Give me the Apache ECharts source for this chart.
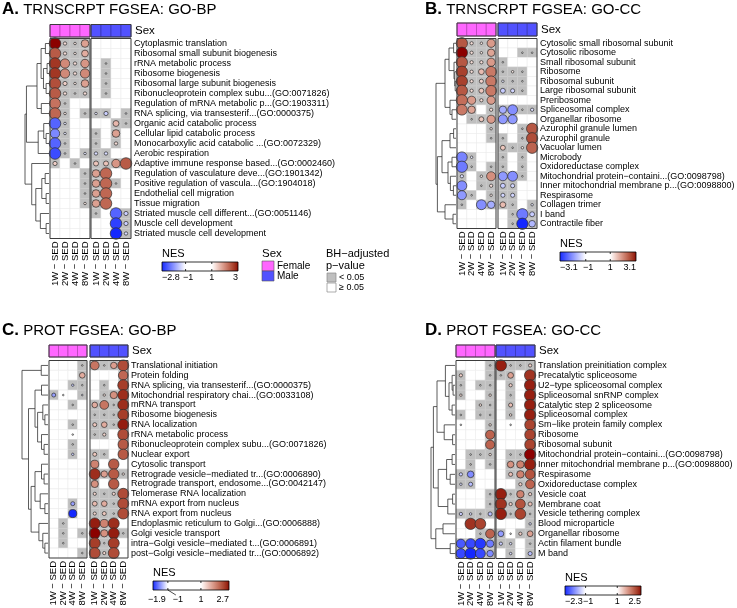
<!DOCTYPE html>
<html>
<head>
<meta charset="utf-8">
<script src="https://cdn.jsdelivr.net/npm/echarts@6/dist/echarts.min.js"></script>
<style>
  html, body { margin: 0; padding: 0; background: #fff; }
  #main { width: 737px; height: 608px; }
</style>
</head>
<body>
<div id="main"></div>
<script>
const FONT = '"Liberation Sans", Arial, Helvetica, sans-serif';
const _ = null;
const colLabels = ['1W − SED', '2W − SED', '4W − SED', '8W − SED'];
const sexLevels = ['Female', 'Male'];

// columns: F1W F2W F4W F8W | M1W M2W M4W M8W
const rowsA = [
    'Cytoplasmic translation', 'Ribosomal small subunit biogenesis', 'rRNA metabolic process',
    'Ribosome biogenesis', 'Ribosomal large subunit biogenesis', 'Ribonucleoprotein complex subu...(GO:0071826)',
    'Regulation of mRNA metabolic p...(GO:1903311)', 'RNA splicing, via transesterif...(GO:0000375)',
    'Organic acid catabolic process', 'Cellular lipid catabolic process', 'Monocarboxylic acid catabolic ...(GO:0072329)',
    'Aerobic respiration', 'Adaptive immune response based...(GO:0002460)', 'Regulation of vasculature deve...(GO:1901342)',
    'Positive regulation of vascula...(GO:1904018)', 'Endothelial cell migration', 'Tissue migration',
    'Striated muscle cell different...(GO:0051146)', 'Muscle cell development', 'Striated muscle cell development'
];
const nesA = [
    [3.0, 1.3, 1.2, 1.8, _, _, _, _],
    [2.4, 1.3, 1.2, 1.7, _, _, _, _],
    [2.7, 2.0, 1.3, 1.9, _, 1.0, _, _],
    [2.7, 2.0, 1.3, 2.0, _, 1.0, _, _],
    [2.5, 1.4, 1.2, 1.8, _, 1.0, _, _],
    [2.4, 1.3, 1.1, 1.3, _, 1.0, _, _],
    [2.2, 1.1, _, _, _, _, _, _],
    [2.3, 1.2, _, 1.1, -1.2, -1.4, _, -1.1],
    [-2.3, -1.2, _, _, _, _, 1.6, 1.0],
    [-2.0, -1.2, _, _, 1.05, _, 1.8, _],
    [-2.3, -1.1, _, _, 1.05, _, 1.3, _],
    [-2.5, -1.1, _, -1.2, -1.3, -1.3, _, _],
    [1.4, _, 1.0, _, 1.5, 1.5, 1.9, 2.4],
    [_, _, _, 1.05, 1.8, 2.3, _, _],
    [_, _, _, 1.05, 1.8, 2.3, 1.0, _],
    [_, _, _, 1.05, 1.8, 2.3, _, _],
    [_, _, _, 1.2, 1.8, 2.3, _, _],
    [_, _, _, _, 1.0, _, -2.3, -1.4],
    [_, _, _, _, _, _, -2.6, -1.4],
    [_, _, _, _, _, _, -2.8, -1.3]
];
const treeA = [10,
    [9.4,
        [5, [3.3, [1.5, 0, 1], [2.3, [0.8, 2, 3], [1.2, 4, 5]]], [3.2, 6, 7]],
        [4.5, [2.2, 8, [1.2, 9, 10]], 11]],
    [7.2, 12, [5.5, [3.0, [1.6, 13, 14], [1.2, 15, 16]], [3.6, 17, [1.2, 18, 19]]]]
];
const nsA = [];
const ticksA = [-2.8, -1, 1, 3];

const rowsB = [
    'Cytosolic small ribosomal subunit', 'Cytosolic ribosome', 'Small ribosomal subunit', 'Ribosome',
    'Ribosomal subunit', 'Large ribosomal subunit', 'Preribosome', 'Spliceosomal complex', 'Organellar ribosome',
    'Azurophil granule lumen', 'Azurophil granule', 'Vacuolar lumen', 'Microbody', 'Oxidoreductase complex',
    'Mitochondrial protein−containi...(GO:0098798)', 'Inner mitochondrial membrane p...(GO:0098800)',
    'Respirasome', 'Collagen trimer', 'I band', 'Contractile fiber'
];
const nesB = [
    [2.5, 1.3, 1.2, 1.9, _, _, _, _],
    [3.1, 1.3, 1.2, 1.8, _, _, -1.0, -1.0],
    [2.5, 1.3, 1.3, 1.9, 1.0, _, _, _],
    [2.7, 1.3, 1.6, 2.2, 1.0, 1.2, 1.0, _],
    [2.7, 1.3, 1.4, 2.2, -1.2, -1.1, 1.0, _],
    [2.5, 1.3, 1.5, 2.2, -1.5, -1.4, 1.0, _],
    [2.3, 1.9, 1.3, 1.9, _, _, _, _],
    [2.2, 1.8, _, 1.3, -1.8, -2.1, 1.0, -1.3],
    [_, 1.0, 1.5, 1.9, -2.0, -2.0, _, _],
    [_, _, _, 1.2, _, _, 1.1, 2.5],
    [_, _, _, 1.0, 1.0, _, 1.1, 2.6],
    [_, _, _, _, 1.5, 1.0, 1.2, 2.4],
    [-2.2, -1.2, _, _, -1.0, _, 1.0, _],
    [-2.3, -1.0, _, -1.0, -1.0, _, 1.0, _],
    [-1.3, _, 1.2, 2.0, -2.0, -2.1, -1.0, _],
    [-2.1, _, 1.0, 1.3, -1.5, -1.4, _, _],
    [-2.0, -1.0, _, 1.2, -1.4, -1.4, _, _],
    [-1.1, _, -2.1, -1.8, 1.6, 1.0, _, -1.2],
    [_, _, _, _, _, -1.0, -2.3, -1.5],
    [_, _, _, _, _, -1.0, -3.1, -1.7]
];
const treeB = [10,
    [5.5, [3.5, [1.2, 0, 1], [1.0, 2, [0.6, 3, [0.4, 4, 5]]]], [3.0, 6, [2.0, 7, 8]]],
    [9.3,
        [7.0, [3.0, [1.2, 9, 10], 11], [4.0, [2.0, 12, 13], [2.8, 14, [1.3, 15, 16]]]],
        [5.5, 17, [1.5, 18, 19]]]
];
const nsB = [];
const ticksB = [-3.1, -1, 1, 3.1];

const rowsC = [
    'Translational initiation', 'Protein folding', 'RNA splicing, via transesterif...(GO:0000375)',
    'Mitochondrial respiratory chai...(GO:0033108)', 'mRNA transport', 'Ribosome biogenesis', 'RNA localization',
    'rRNA metabolic process', 'Ribonucleoprotein complex subu...(GO:0071826)', 'Nuclear export', 'Cytosolic transport',
    'Retrograde vesicle−mediated tr...(GO:0006890)', 'Retrograde transport, endosome...(GO:0042147)',
    'Telomerase RNA localization', 'mRNA export from nucleus', 'RNA export from nucleus',
    'Endoplasmic reticulum to Golgi...(GO:0006888)', 'Golgi vesicle transport',
    'intra−Golgi vesicle−mediated t...(GO:0006891)', 'post−Golgi vesicle−mediated tr...(GO:0006892)'
];
const nesC = [
    [_, _, _, 1.1, 2.0, 1.1, 1.7, 2.3],
    [_, _, _, 1.6, _, _, _, 2.1],
    [_, _, -1.2, 1.0, _, 1.0, _, 2.4],
    [-1.4, -1.0, _, -1.1, _, 1.2, 1.8, 2.5],
    [_, _, -1.0, _, 1.6, 2.0, 1.0, 2.5],
    [_, _, _, _, 1.05, 1.1, 1.0, 2.4],
    [_, _, -1.0, _, 1.4, 1.6, 1.0, 2.6],
    [_, _, 1.0, _, 1.1, 1.3, _, 2.3],
    [_, _, -1.0, _, _, _, _, 2.2],
    [_, _, -1.2, _, 1.4, 1.1, _, 2.2],
    [_, _, _, _, 1.9, _, 2.2, _],
    [_, _, _, _, 2.5, 1.7, 2.2, 1.2],
    [_, _, _, _, 1.8, _, 2.2, _],
    [_, _, _, _, 1.3, 1.0, 1.3, 2.3],
    [_, _, -1.4, _, 1.5, 1.6, 1.0, 2.3],
    [_, _, -1.9, _, 1.3, 1.4, 1.0, 2.3],
    [_, -1.0, _, _, 2.6, 1.9, 2.5, _],
    [_, -1.0, _, -1.0, 2.7, 1.8, 2.6, 1.0],
    [_, -1.0, _, _, 2.4, 1.0, 2.4, _],
    [_, _, _, -1.0, 2.3, 1.3, 2.3, _]
];
const treeC = [10, [2.6, 0, 1],
    [7.5,
        [5, [2.5, 2, 3], [4, [2, 4, [1.2, 5, 6]], [2.5, 7, [1.5, 8, 9]]]],
        [6.5, [5, [2.5, 10, [1.5, 11, 12]], [3, 13, [1.2, 14, 15]]], [3.5, 16, [2, 17, [1.2, 18, 19]]]]]
];
const nsC = [[3, 1], [7, 2]];
const ticksC = [-1.9, -1, 1, 2.7];

const rowsD = [
    'Translation preinitiation complex', 'Precatalytic spliceosome', 'U2−type spliceosomal complex',
    'Spliceosomal snRNP complex', 'Catalytic step 2 spliceosome', 'Spliceosomal complex',
    'Sm−like protein family complex', 'Ribosome', 'Ribosomal subunit',
    'Mitochondrial protein−containi...(GO:0098798)', 'Inner mitochondrial membrane p...(GO:0098800)',
    'Respirasome', 'Oxidoreductase complex', 'Vesicle coat', 'Membrane coat', 'Vesicle tethering complex',
    'Blood microparticle', 'Organellar ribosome', 'Actin filament bundle', 'M band'
];
const nesD = [
    [_, _, _, 1.0, 2.4, 1.1, 1.1, 1.3],
    [1.3, _, _, 1.0, 1.0, 1.6, _, 2.3],
    [1.0, _, 1.0, 1.0, _, 1.3, _, 2.4],
    [1.2, _, _, 1.2, _, 1.0, _, 2.4],
    [_, _, 1.2, 1.0, _, 1.4, _, 2.4],
    [1.0, _, 1.0, 1.0, _, 1.2, _, 2.4],
    [1.0, _, _, 1.2, _, 1.0, _, 2.2],
    [_, _, _, 2.0, _, _, _, 2.2],
    [_, _, _, 2.0, _, _, _, 2.2],
    [_, 1.0, 1.0, 1.2, _, 1.0, 1.0, 2.5],
    [_, 1.1, _, 1.0, _, 1.7, 1.8, 2.4],
    [-1.3, -1.7, _, _, _, 1.4, 1.8, 2.1],
    [-1.2, -1.4, _, _, _, _, 1.3, 2.0],
    [_, _, _, 1.0, 2.4, 1.0, 1.8, 1.3],
    [_, _, _, 1.0, 2.3, 1.3, 2.1, 1.4],
    [-1.3, -1.2, 1.0, -1.4, 2.4, 1.0, 2.2, 1.0],
    [_, 2.3, 2.2, _, _, _, _, -1.2],
    [_, _, 1.0, 2.0, -1.6, 1.0, 1.3, 1.6],
    [-2.0, -2.1, -2.2, -1.8, -1.3, -1.2, _, 1.0],
    [-2.1, -2.3, -2.1, -1.7, _, -1.2, _, -1.4]
];
const treeD = [10,
    [9,
        [7.5, [4, 0, [2.5, [1.2, 1, [0.8, 2, 3]], [1.2, 4, 5]]], [4.5, 6, [1.0, 7, 8]]],
        [7, [3.5, [1.2, 9, 10], [2, 11, 12]], [3, [1, 13, 14], 15]]],
    [8, [5, 16, 17], [2, 18, 19]]
];
const nsD = [[6, 0], [6, 5], [17, 5]];
const ticksD = [-2.3, -1, 1, 2.5];

const panels = [
    { tag: 'A.', title: 'TRNSCRPT FGSEA: GO-BP', rows: rowsA, nes: nesA, tree: treeA, ns: nsA, ticks: ticksA,
      tx: 2, ty: 9.5, fx: 50, mx: 91, bw: 40, top: 38.5, h: 200, sexTop: 24.5, sexH: 12.5, dendL: 25,
      leg: { x: 162, y: 254, w: 76 } },
    { tag: 'B.', title: 'TRNSCRPT FGSEA: GO-CC', rows: rowsB, nes: nesB, tree: treeB, ns: nsB, ticks: ticksB,
      tx: 425, ty: 9.5, fx: 457, mx: 498, bw: 39, top: 38.5, h: 190, sexTop: 23, sexH: 13, dendL: 436,
      leg: { x: 560, y: 244, w: 76 } },
    { tag: 'C.', title: 'PROT FGSEA: GO-BP', rows: rowsC, nes: nesC, tree: treeC, ns: nsC, ticks: ticksC,
      tx: 2, ty: 330.5, fx: 49, mx: 90, bw: 38, top: 360.5, h: 197.5, sexTop: 345, sexH: 12, dendL: 22,
      leg: { x: 153, y: 573, w: 76, shift: 10 } },
    { tag: 'D.', title: 'PROT FGSEA: GO-CC', rows: rowsD, nes: nesD, tree: treeD, ns: nsD, ticks: ticksD,
      tx: 425, ty: 330.5, fx: 456, mx: 496, bw: 39, top: 360.5, h: 198, sexTop: 345, sexH: 12, dendL: 431,
      leg: { x: 565, y: 578, w: 76 } }
];

const SEX_COL = ['#ff66ff', '#5252ff'];
const GRAY = '#bfbfbf';

// colour ramp: blue - white (-1..1) - darkred
function rgb2lab(c) {
    const lin = v => { v /= 255; return v <= 0.04045 ? v / 12.92 : Math.pow((v + 0.055) / 1.055, 2.4); };
    const R = lin(c[0]), G = lin(c[1]), B = lin(c[2]);
    const X = (R * 0.4124 + G * 0.3576 + B * 0.1805) / 0.95047;
    const Y = R * 0.2126 + G * 0.7152 + B * 0.0722;
    const Z = (R * 0.0193 + G * 0.1192 + B * 0.9505) / 1.08883;
    const f = t => t > 0.008856 ? Math.cbrt(t) : 7.787 * t + 16 / 116;
    return [116 * f(Y) - 16, 500 * (f(X) - f(Y)), 200 * (f(Y) - f(Z))];
}
function lab2hex(l) {
    const fy = (l[0] + 16) / 116, fx = fy + l[1] / 500, fz = fy - l[2] / 200;
    const inv = t => t * t * t > 0.008856 ? t * t * t : (t - 16 / 116) / 7.787;
    const X = inv(fx) * 0.95047, Y = inv(fy), Z = inv(fz) * 1.08883;
    const rgb = [
        X * 3.2406 - Y * 1.5372 - Z * 0.4986,
        -X * 0.9689 + Y * 1.8758 + Z * 0.0415,
        X * 0.0557 - Y * 0.2040 + Z * 1.0570
    ].map(v => {
        v = v <= 0.0031308 ? 12.92 * v : 1.055 * Math.pow(v, 1 / 2.4) - 0.055;
        return Math.round(Math.max(0, Math.min(1, v)) * 255);
    });
    return rgbHex(rgb);
}
const rgbHex = c => '#' + c.map(v => Math.round(v).toString(16).padStart(2, '0')).join('');
const LAB_W = rgb2lab([255, 255, 255]), LAB_R = rgb2lab([139, 0, 0]);
const BLUE_END = [20, 40, 255];
function nesColor(v, lo, hi) {
    if (v >= 1) {
        const t = Math.min(1, (v - 1) / (hi - 1));
        return lab2hex(LAB_W.map((w, i) => w + (LAB_R[i] - w) * t));
    }
    if (v <= -1) {
        const t = Math.min(1, (v + 1) / (lo + 1));
        return rgbHex(BLUE_END.map(e => 255 + (e - 255) * t));
    }
    return '#ffffff';
}
function dotSize(v, cw) {
    const k = Math.max(0.15, Math.min(1.05, (Math.abs(v) - 0.9) / 1.3));
    return cw * 1.1 * k;
}

// tree -> line segments [h1, y1, h2, y2]
function treeSegments(node, out) {
    if (typeof node === 'number') return { h: 0, y: node };
    const a = treeSegments(node[1], out), b = treeSegments(node[2], out);
    out.push([a.h, a.y, node[0], a.y], [node[0], a.y, node[0], b.y], [b.h, b.y, node[0], b.y]);
    return { h: node[0], y: (a.y + b.y) / 2 };
}

const grid = [], xAxis = [], yAxis = [], series = [], graphic = [];
function addGrid(g, x, y) {
    const i = grid.length;
    grid.push(Object.assign({ containLabel: false, outerBoundsMode: 'none' }, g));
    xAxis.push(Object.assign({ gridIndex: i }, x));
    yAxis.push(Object.assign({ gridIndex: i }, y));
    return i;
}
const frame = i => ({
    type: 'custom', xAxisIndex: i, yAxisIndex: i, data: [[0, 0]], z: 4, silent: true, clip: false,
    renderItem: (params) => {
        const c = params.coordSys;
        return { type: 'rect', shape: { x: c.x, y: c.y, width: c.width, height: c.height },
                 style: { fill: 'none', stroke: '#3c3c3c', lineWidth: 1 } };
    }
});
function txt(x, y, s, size, align, extra) {
    return { type: 'text', silent: true, style: Object.assign({
        x: x, y: y, text: s, fontSize: size, fontFamily: FONT, fill: '#000',
        align: align || 'left', textAlign: align || 'left', verticalAlign: 'middle', textVerticalAlign: 'middle'
    }, extra || {}) };
}

panels.forEach(p => {
    const n = p.rows.length;
    const isNs = (r, c) => p.ns.some(q => q[0] === r && q[1] === c);
    const lo = p.ticks[0], hi = p.ticks[3];

    // row dendrogram
    const segs = [];
    treeSegments(p.tree, segs);
    const di = addGrid({ left: p.dendL, top: p.top, width: p.fx - 1 - p.dendL, height: p.h },
        { type: 'value', min: 0, max: p.tree[0], inverse: true, show: false },
        { type: 'value', min: -0.5, max: n - 0.5, inverse: true, show: false });
    series.push({
        type: 'custom', xAxisIndex: di, yAxisIndex: di, data: segs, silent: true, clip: false,
        encode: { x: [0, 2], y: [1, 3] },
        renderItem: (params, api) => {
            const a = api.coord([api.value(0), api.value(1)]);
            const b = api.coord([api.value(2), api.value(3)]);
            return { type: 'line', shape: { x1: a[0], y1: a[1], x2: b[0], y2: b[1] },
                     style: { stroke: '#333', lineWidth: 0.8 } };
        }
    });

    [0, 1].forEach(b => {
        const left = b ? p.mx : p.fx;
        const cw = p.bw / 4;
        const hi_ = addGrid({ left: left, top: p.top, width: p.bw, height: p.h },
            { type: 'category', data: colLabels, axisTick: { show: false }, axisLine: { show: false },
              axisLabel: { rotate: 90, interval: 0, margin: 3, fontSize: 9.5, color: '#000', fontFamily: FONT } },
            { type: 'category', data: p.rows, inverse: true, position: 'right',
              axisTick: { show: false }, axisLine: { show: false }, splitLine: { show: false },
              axisLabel: { show: b === 1, interval: 0, margin: 3, fontSize: 9, color: '#000', fontFamily: FONT } });
        const cells = [], dots = [];
        p.nes.forEach((row, r) => {
            for (let c = 0; c < 4; c++) {
                const v = row[b * 4 + c];
                cells.push([c, r, v !== null && !isNs(r, b * 4 + c) ? 1 : 0]);
                if (v !== null) dots.push([c, r, v]);
            }
        });
        series.push({
            type: 'custom', xAxisIndex: hi_, yAxisIndex: hi_, data: cells, silent: true, z: 1,
            renderItem: (params, api) => {
                const pt = api.coord([api.value(0), api.value(1)]);
                const s = api.size([1, 1]);
                return { type: 'rect', shape: { x: pt[0] - s[0] / 2, y: pt[1] - s[1] / 2, width: s[0], height: s[1] },
                         style: { fill: api.value(2) ? GRAY : '#fff', stroke: api.value(2) ? '#cdcdcd' : '#ececec', lineWidth: 0.6 } };
            }
        });
        series.push({
            type: 'scatter', xAxisIndex: hi_, yAxisIndex: hi_, data: dots, silent: true, z: 3,
            symbol: 'circle',
            symbolSize: val => dotSize(val[2], cw),
            itemStyle: { color: prm => nesColor(prm.value[2], lo, hi), borderColor: '#2b2b2b', borderWidth: 0.7, opacity: 1 }
        });
        series.push(frame(hi_));

        // sex annotation bar
        const si = addGrid({ left: left, top: p.sexTop, width: p.bw, height: p.sexH },
            { type: 'category', data: colLabels, show: false },
            { type: 'category', data: ['Sex'], position: 'right',
              axisTick: { show: false }, axisLine: { show: false },
              axisLabel: { show: b === 1, margin: 4, fontSize: 11.5, color: '#000', fontFamily: FONT } });
        series.push({
            type: 'custom', xAxisIndex: si, yAxisIndex: si, data: [[0, 0], [1, 0], [2, 0], [3, 0]], silent: true,
            renderItem: (params, api) => {
                const pt = api.coord([api.value(0), 0]);
                const s = api.size([1, 1]);
                return { type: 'rect', shape: { x: pt[0] - s[0] / 2, y: pt[1] - s[1] / 2, width: s[0], height: s[1] },
                         style: { fill: SEX_COL[b], stroke: b ? '#3434b0' : '#b040b0', lineWidth: 0.7 } };
            }
        });
        series.push(frame(si));
    });

    // title
    graphic.push(txt(p.tx, p.ty, '{b|' + p.tag + '} ' + p.title, 15, 'left',
        { rich: { b: { fontSize: 17, fontWeight: 'bold', fontFamily: FONT } } }));

    // NES colour bar legend
    const L = p.leg, by = L.y + 8, bh = 9;
    const pos = v => L.x + (v - lo) / (hi - lo) * L.w;
    const stops = [];
    for (let i = 0; i <= 60; i++) stops.push({ offset: i / 60, color: nesColor(lo + (hi - lo) * i / 60, lo, hi) });
    graphic.push(txt(L.x, L.y, 'NES', 11));
    graphic.push({ type: 'rect', silent: true, shape: { x: L.x, y: by, width: L.w, height: bh },
        style: { fill: new echarts.graphic.LinearGradient(0, 0, 1, 0, stops), stroke: '#000', lineWidth: 0.8 } });
    p.ticks.forEach((t, i) => {
        const x = pos(t);
        if (i === 1 || i === 2) {
            graphic.push({ type: 'line', silent: true, shape: { x1: x, y1: by, x2: x, y2: by + 2 }, style: { stroke: '#000', lineWidth: 0.8 } });
            graphic.push({ type: 'line', silent: true, shape: { x1: x, y1: by + bh - 2, x2: x, y2: by + bh }, style: { stroke: '#000', lineWidth: 0.8 } });
        }
        const s = String(t).replace('-', '−');
        const ly = L.y + 24 + (L.shift ? 3 : 0);
        if (i === 0) graphic.push(txt(L.shift ? x - 5 : x, ly, s, 9, 'left'));
        else if (i === 3) graphic.push(txt(x, ly, s, 9, 'right'));
        else if (i === 1 && L.shift) {
            graphic.push(txt(x + L.shift, ly, s, 9, 'center'));
            graphic.push({ type: 'line', silent: true, shape: { x1: x, y1: by + bh, x2: x + L.shift - 2, y2: ly - 5 }, style: { stroke: '#000', lineWidth: 0.7 } });
        }
        else graphic.push(txt(i === 1 ? x + 2.5 : x, ly, s, 9, 'center'));
    });
});

// Sex and p-value legends (panel A)
graphic.push(txt(262, 254, 'Sex', 11.5));
sexLevels.forEach((s, i) => {
    graphic.push({ type: 'rect', silent: true, shape: { x: 262, y: 261 + i * 10, width: 12, height: 10 },
        style: { fill: SEX_COL[i], stroke: '#555', lineWidth: 0.6 } });
    graphic.push(txt(277, 266 + i * 10.5, s, 10));
});
graphic.push(txt(326, 254, 'BH−adjusted', 11));
graphic.push(txt(326, 265.5, 'p−value', 11));
[[GRAY, '< 0.05'], ['#fff', '≥ 0.05']].forEach((e, i) => {
    graphic.push({ type: 'rect', silent: true, shape: { x: 327, y: 273 + i * 10, width: 9, height: 9 },
        style: { fill: e[0], stroke: '#8a8a8a', lineWidth: 0.7 } });
    graphic.push(txt(339, 277.5 + i * 10, e[1], 9));
});

const chart = echarts.init(document.getElementById('main'), null, { renderer: 'canvas' });
chart.setOption({
    animation: false,
    backgroundColor: '#fff',
    grid: grid,
    xAxis: xAxis,
    yAxis: yAxis,
    series: series,
    graphic: graphic
});
</script>
</body>
</html>
